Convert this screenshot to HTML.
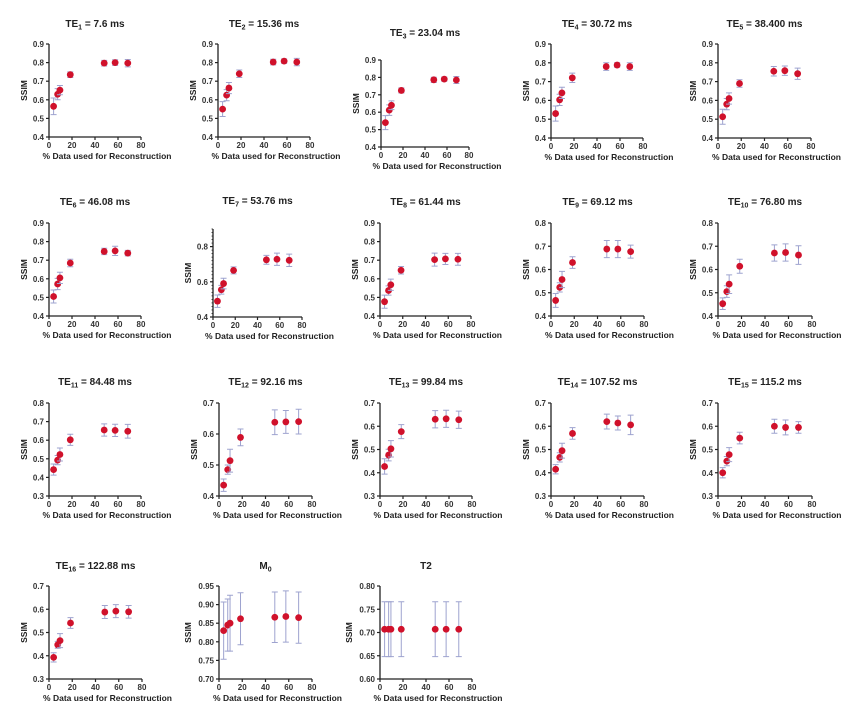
<!DOCTYPE html>
<html><head><meta charset="utf-8"><style>
html,body{margin:0;padding:0;background:#fff;}
svg{display:block;font-family:"Liberation Sans",Arial,sans-serif;}
</style></head><body>
<svg id="fig" width="850" height="713" viewBox="0 0 850 713" xmlns="http://www.w3.org/2000/svg"></svg>
<script>
// ---- data ----
const xPercent = [4, 7.5, 9.5, 18.5, 48, 57.5, 68.5];
const xTicks = [0, 20, 40, 60, 80];
const panelTitles = ["1|7.6 ms","2|15.36 ms","3|23.04 ms","4|30.72 ms","5|38.400 ms","6|46.08 ms","7|53.76 ms","8|61.44 ms","9|69.12 ms","10|76.80 ms","11|84.48 ms","12|92.16 ms","13|99.84 ms","14|107.52 ms","15|115.2 ms","16|122.88 ms","M0","T2"];
const seriesMeans = [
 [.565,.63,.652,.735,.797,.80,.797],
 [.55,.625,.663,.74,.803,.808,.803],
 [.54,.612,.64,.725,.786,.79,.785],
 [.53,.603,.64,.72,.78,.788,.78],
 [.513,.58,.61,.69,.755,.758,.742],
 [.505,.572,.605,.685,.747,.75,.738],
 [.49,.555,.59,.665,.725,.728,.722],
 [.477,.537,.568,.646,.703,.707,.705],
 [.467,.523,.557,.63,.688,.688,.677],
 [.453,.505,.537,.614,.671,.673,.662],
 [.442,.493,.523,.602,.655,.653,.648],
 [.435,.485,.514,.589,.638,.639,.64],
 [.427,.476,.503,.577,.63,.632,.628],
 [.415,.466,.495,.569,.62,.614,.606],
 [.40,.45,.478,.549,.60,.595,.595],
 [.393,.447,.465,.541,.588,.592,.589],
 [.83,.845,.85,.862,.866,.868,.865],
 [.707,.707,.707,.707,.707,.707,.707]
];
const seriesErrors = [
 [.045,.03,.025,.015,.015,.015,.02],
 [.04,.03,.03,.02,.015,.012,.02],
 [.04,.03,.025,.015,.015,.012,.02],
 [.04,.03,.03,.025,.02,.012,.02],
 [.04,.03,.03,.02,.025,.025,.03],
 [.035,.03,.03,.02,.017,.025,.015],
 [.035,.025,.03,.02,.025,.035,.035],
 [.035,.025,.03,.02,.035,.03,.032],
 [.03,.02,.035,.025,.037,.037,.028],
 [.025,.025,.04,.03,.035,.037,.04],
 [.03,.025,.035,.03,.033,.033,.037],
 [.02,.015,.037,.027,.04,.037,.04],
 [.033,.025,.035,.03,.037,.037,.037],
 [.02,.02,.032,.025,.032,.03,.042],
 [.022,.02,.03,.025,.03,.032,.025],
 [.02,.015,.03,.023,.028,.028,.027],
 [.077,.07,.075,.07,.068,.069,.069],
 [.059,.059,.059,.059,.059,.059,.059]
];
const yTickSets = [
 [.4,.5,.6,.7,.8,.9],[.4,.5,.6,.7,.8,.9],[.4,.5,.6,.7,.8,.9],[.4,.5,.6,.7,.8,.9],[.4,.5,.6,.7,.8,.9],
 [.4,.5,.6,.7,.8,.9],[.4,.6,.8],[.4,.5,.6,.7,.8,.9],[.4,.5,.6,.7,.8],[.4,.5,.6,.7,.8],
 [.3,.4,.5,.6,.7,.8],[.4,.5,.6,.7],[.3,.4,.5,.6,.7],[.3,.4,.5,.6,.7],[.3,.4,.5,.6,.7],
 [.3,.4,.5,.6,.7],[.70,.75,.80,.85,.90,.95],[.60,.65,.70,.75,.80]
];
const yRanges = [
 [.4,.9],[.4,.9],[.4,.9],[.4,.9],[.4,.9],[.4,.9],[.4,.9],[.4,.9],[.4,.8],[.4,.8],
 [.3,.8],[.4,.7],[.3,.7],[.3,.7],[.3,.7],[.3,.7],[.70,.95],[.60,.80]
];
// ---- layout (pixels) ----
const boxes = [
 [49,141,44,137,27],[218,310,44,137,27],[381,469,60,147,36],[551,643,44,138,27],[718,811,44,138,27],
 [49,141,223,316,205],[213,302,229,317,204],[380,471,223,316,205],[551,644,223,316,205],[718,812,223,316,205],
 [49,141,403,496,385],[219,312,403,496,385],[380,472,403,496,385],[551,644,403,496,385],[718,812,403,496,385],
 [49,142,586,679,569],[219,312,586,679,569],[380,472,586,679,569]
];
const NS="http://www.w3.org/2000/svg";
const svg=document.getElementById('fig');
function mk(tag,attrs,parent){const e=document.createElementNS(NS,tag);for(const k in attrs)e.setAttribute(k,attrs[k]);(parent||svg).appendChild(e);return e;}
const ink="#222";
seriesMeans.forEach((means,p)=>{
  const [x0,x1,yT,yB,tY]=boxes[p];
  const [lo,hi]=yRanges[p];
  const sx=v=>x0+(v-0)/(80-0)*(x1-x0);
  const sy=v=>yB-(v-lo)/(hi-lo)*(yB-yT);
  const g=mk('g',{});
  
  
  // title
  const t=mk('text',{x:(x0+x1)/2,y:tY,'text-anchor':'middle','font-size':'10','font-weight':'bold',fill:ink},g);
  
  
  const parts=panelTitles[p].split('|');
  if(parts.length===2){
    const a=mk('tspan',{},t);a.textContent='TE';
    const s=mk('tspan',{dy:'2.5','font-size':'7'},t);s.textContent=parts[0];
    const b=mk('tspan',{dy:'-2.5'},t);b.textContent=' = '+parts[1];
  } else if(parts[0]==='M0'){
    const a=mk('tspan',{},t);a.textContent='M';
    const s=mk('tspan',{dy:'2.5','font-size':'7'},t);s.textContent='0';
  } else t.textContent=parts[0];
  // axes
  const ax=mk('path',{d:`M${x0},${yT}V${yB}H${x1}`,stroke:ink,'stroke-width':'1.3',fill:'none'},g);
  
  
  xTicks.forEach(v=>{
    mk('line',{x1:sx(v),x2:sx(v),y1:yB,y2:yB+3,stroke:ink,'stroke-width':'1.2'},g);
    const l=mk('text',{x:sx(v),y:yB+11,'text-anchor':'middle','font-size':'8','font-weight':'bold',fill:'#333'},g);
    
    
    l.textContent=v;
  });
  if(p===6){for(let v=lo;v<=hi+1e-9;v+=0.02)mk('line',{x1:x0-1.5,x2:x0,y1:sy(v),y2:sy(v),stroke:ink,'stroke-width':'0.8'},g);}
  const dec=p>=16?2:1;
  yTickSets[p].forEach(v=>{
    mk('line',{x1:x0-3,x2:x0,y1:sy(v),y2:sy(v),stroke:ink,'stroke-width':'1.2'},g);
    const l=mk('text',{x:x0-5,y:sy(v)+3,'text-anchor':'end','font-size':'8','font-weight':'bold',fill:'#333'},g);
    
    
    l.textContent=v.toFixed(dec);
  });
  const yl=mk('text',{x:0,y:0,'text-anchor':'middle','font-size':'8.5','font-weight':'bold',fill:ink,transform:`translate(${x0-(p>=16?28:22)},${(yT+yB)/2}) rotate(-90)`},g);
  
  
  yl.textContent='SSIM';
  const xl=mk('text',{x:(x0+x1)/2+12,y:yB+22,'text-anchor':'middle','font-size':'8.5','font-weight':'bold',fill:ink},g);
  
  
  xl.textContent='% Data used for Reconstruction';
  // error bars + points
  means.forEach((m,i)=>{
    const e=seriesErrors[p][i], cx=sx(xPercent[i]);
    const eb=mk('path',{d:`M${cx},${sy(m+e)}V${sy(m-e)}M${cx-3},${sy(m+e)}h6M${cx-3},${sy(m-e)}h6`,stroke:'#9ea3cf','stroke-width':'1',fill:'none'},g);
    
    
    const c=mk('circle',{cx:cx,cy:sy(m),r:3.4,fill:'#d0112b'},g);
    
    
  });
});
</script>
</body></html>
